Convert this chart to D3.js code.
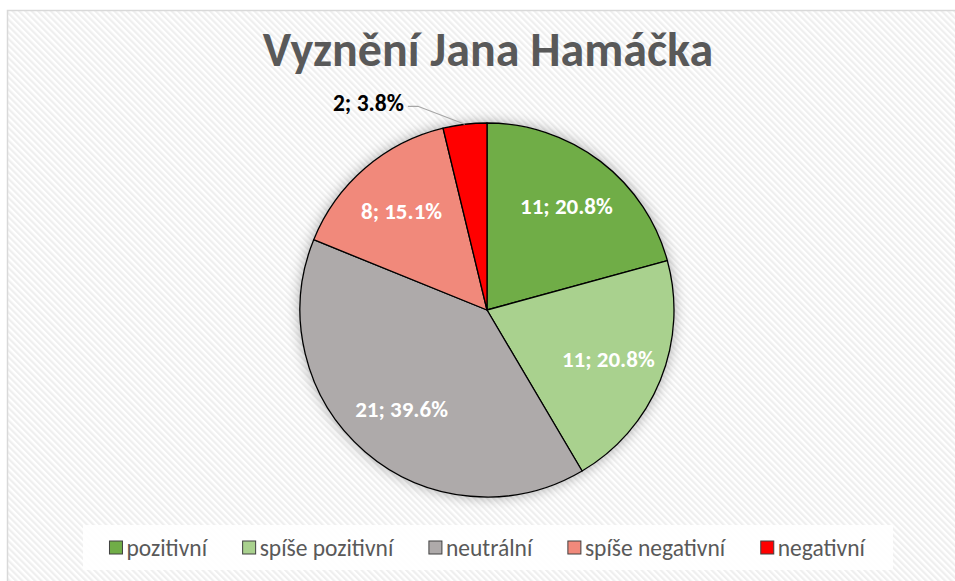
<!DOCTYPE html>
<html>
<head>
<meta charset="utf-8">
<script src="https://cdn.jsdelivr.net/npm/d3@7"></script>
<style>
  html, body { margin: 0; padding: 0; background: #fff; }
  svg { display: block; font-family: Carlito, Calibri, Lato, "Open Sans", sans-serif; }
</style>
</head>
<body>
<div id="chart"></div>
<script>
const title = 'Vyznění Jana Hamáčka';
const categories = ['pozitivní', 'spíše pozitivní', 'neutrální', 'spíše negativní', 'negativní'];
const counts = [11, 11, 21, 8, 2];
const percents = ['20.8%', '20.8%', '39.6%', '15.1%', '3.8%'];
const colors = ['#70AD47', '#A9D18E', '#AEAAAA', '#F1897B', '#FF0000'];

const width = 955;
const height = 581;
const svg = d3.select('#chart').append('svg')
    .attr('width', width)
    .attr('height', height);

const defs = svg.append('defs');
const pat = defs.append('pattern')
    .attr('id', 'stripes')
    .attr('patternUnits', 'userSpaceOnUse')
    .attr('width', 4.5)
    .attr('height', 4.5)
    .attr('patternTransform', 'rotate(-45)');
pat.append('rect').attr('width', 4.5).attr('height', 4.5).attr('fill', '#ffffff');
pat.append('rect').attr('width', 2.2).attr('height', 4.5).attr('fill', '#efefef');

const shadow = defs.append('filter')
    .attr('id', 'glow')
    .attr('x', '-20%').attr('y', '-20%')
    .attr('width', '140%').attr('height', '140%');
shadow.append('feDropShadow')
    .attr('dx', 0).attr('dy', 0)
    .attr('stdDeviation', 7)
    .attr('flood-color', '#000')
    .attr('flood-opacity', 0.35);

// chart area with hatched background
svg.append('rect')
    .attr('x', 7.5).attr('y', 10.5)
    .attr('width', width).attr('height', height)
    .attr('fill', 'url(#stripes)')
    .attr('stroke', '#d9d9d9')
    .attr('stroke-width', 1.5);

const cx = 487, cy = 310, r = 187;

svg.append('text')
    .attr('x', cx + 1)
    .attr('y', 66)
    .attr('text-anchor', 'middle')
    .attr('fill', '#595959')
    .attr('font-weight', 'bold')
    .attr('font-size', 48)
    .text(title);

const pie = d3.pie().sort(null).value(d => d);
const arcs = pie(counts);
const arc = d3.arc().innerRadius(0).outerRadius(r);
const labelArc = d3.arc().innerRadius(r * 0.7).outerRadius(r * 0.7);
const edgeArc = d3.arc().innerRadius(r).outerRadius(r);

const g = svg.append('g').attr('transform', `translate(${cx},${cy})`);

g.append('circle').attr('r', r).attr('fill', '#fff').attr('filter', 'url(#glow)');

g.selectAll('path.slice')
    .data(arcs)
    .enter()
    .append('path')
    .attr('class', 'slice')
    .attr('d', arc)
    .attr('fill', (d, i) => colors[i])
    .attr('stroke', '#000')
    .attr('stroke-width', 1.3)
    .attr('stroke-linejoin', 'round');

const isInside = d => (d.endAngle - d.startAngle) > 0.3;

g.selectAll('text.inlabel')
    .data(arcs.filter(isInside))
    .enter()
    .append('text')
    .attr('class', 'inlabel')
    .attr('transform', d => `translate(${labelArc.centroid(d)})`)
    .attr('text-anchor', 'middle')
    .attr('dy', '0.35em')
    .attr('fill', '#fff')
    .attr('font-weight', 'bold')
    .attr('font-size', 23)
    .text(d => `${counts[d.index]}; ${percents[d.index]}`);

// outside label with leader line
arcs.filter(d => !isInside(d)).forEach(d => {
    const p = edgeArc.centroid(d);
    const elbow = [p[0] - 47, p[1] - 18];
    g.append('polyline')
        .attr('points', [p, elbow, [elbow[0] - 10, elbow[1]]].map(q => q.join(',')).join(' '))
        .attr('fill', 'none')
        .attr('stroke', '#a6a6a6')
        .attr('stroke-width', 1.2);
    g.append('text')
        .attr('x', elbow[0] - 14)
        .attr('y', elbow[1] - 4)
        .attr('dy', '0.35em')
        .attr('text-anchor', 'end')
        .attr('fill', '#000')
        .attr('font-weight', 'bold')
        .attr('font-size', 23.5)
        .text(`${counts[d.index]}; ${percents[d.index]}`);
});

// legend
svg.append('rect')
    .attr('x', 83).attr('y', 525)
    .attr('width', 810).attr('height', 45)
    .attr('fill', '#fff')
    .attr('fill-opacity', 0.9);

const legend = svg.append('g');
const items = legend.selectAll('g.item')
    .data(categories)
    .enter()
    .append('g')
    .attr('class', 'item');
items.append('rect')
    .attr('width', 13).attr('height', 13)
    .attr('y', -7)
    .attr('fill', (d, i) => colors[i])
    .attr('stroke', '#404040')
    .attr('stroke-width', 1);
items.append('text')
    .attr('x', 17)
    .attr('dy', '0.35em')
    .attr('fill', '#595959')
    .attr('font-size', 23.5)
    .text(d => d);

const gap = 34;
const widths = [];
items.each(function () { widths.push(this.getBBox().width); });
const total = d3.sum(widths) + gap * (widths.length - 1);
let x0 = cx + 1 - total / 2;
items.attr('transform', (d, i) => {
    const t = `translate(${x0},548)`;
    x0 += widths[i] + gap;
    return t;
});
</script>
</body>
</html>
